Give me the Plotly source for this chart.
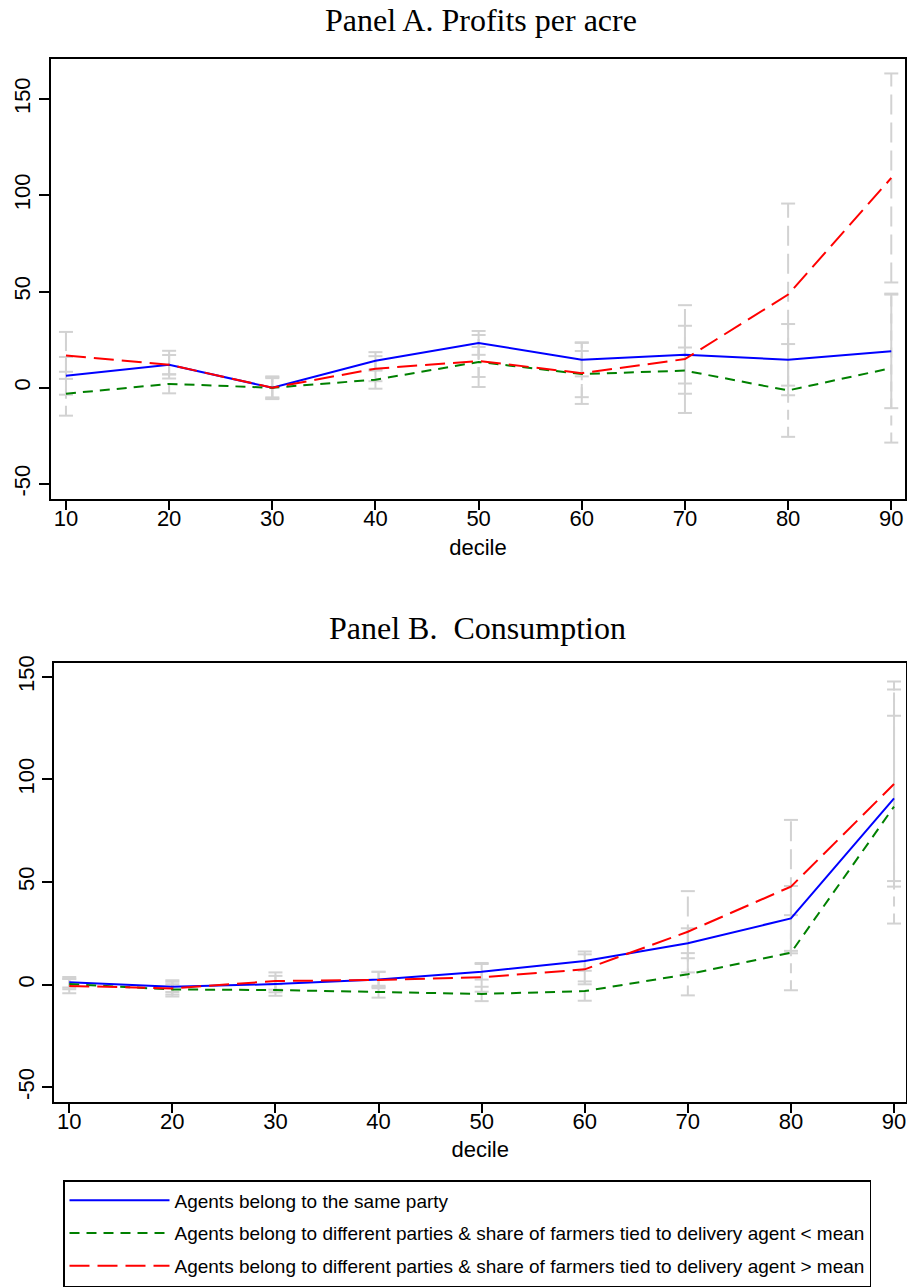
import plotly.graph_objects as go

# ---------------- data ----------------
deciles = [10, 20, 30, 40, 50, 60, 70, 80, 90]

# Panel A. Profits per acre
a_same = [6.2, 12.0, 0.0, 14.0, 23.3, 14.6, 17.2, 14.6, 18.9]
a_below = [-3.1, 2.0, 0.0, 4.2, 13.4, 7.1, 8.9, -1.4, 10.2]
a_above = [16.8, 12.0, 0.0, 9.9, 13.9, 7.6, 14.9, 48.4, 109.0]
a_same_ci = [9.8, 7.2, 5.0, 4.5, 6.2, 8.7, 15.0, 18.5, 29.5]
a_below_ci = [11.4, 4.9, 5.9, 4.7, 7.8, 12.0, 12.0, 24.1, 38.7]
a_above_ci = [12.2, 5.0, 5.5, 6.5, 13.5, 16.0, 28.0, 47.3, 54.3]

# Panel B. Consumption
b_same = [1.2, -1.0, 0.3, 2.6, 6.3, 11.5, 20.2, 32.3, 90.8]
b_below = [0.3, -2.3, -2.6, -3.4, -4.5, -3.1, 5.1, 15.6, 86.8]
b_above = [-0.6, -1.8, 1.8, 2.3, 3.6, 7.5, 25.8, 47.8, 97.8]
b_same_ci = [2.5, 2.5, 4.0, 3.7, 3.8, 4.7, 7.3, 15.8, 40.3]
b_below_ci = [2.5, 2.5, 2.8, 2.9, 3.5, 4.7, 10.3, 18.3, 57.0]
b_above_ci = [3.5, 4.0, 4.2, 4.0, 7.0, 7.3, 19.8, 32.5, 50.0]

series_names = [
    "Agents belong to the same party",
    "Agents belong to different parties & share of farmers tied to delivery agent < mean",
    "Agents belong to different parties & share of farmers tied to delivery agent > mean",
]
y_tickvals = [-50, 0, 50, 100, 150]
y_ticktext = ["-50", "0", "50", "100", "150"]
panel_titles = ["Panel A. Profits per acre", "Panel B.\u00a0 Consumption"]

# ---------------- styles ----------------
colors = ["#0000ff", "#008000", "#ff0000"]
dashes = ["solid", "10px,7px", "20px,8px"]
GRAY = "#d2d2d2"
FONT = "Liberation Sans, Arial, Helvetica, sans-serif"
SERIF = "Liberation Serif, Times New Roman, serif"

W, H = 907, 1287

fig = go.Figure()

panels = [
    ("x", "y", [a_same, a_below, a_above], [a_same_ci, a_below_ci, a_above_ci]),
    ("x2", "y2", [b_same, b_below, b_above], [b_same_ci, b_below_ci, b_above_ci]),
]

for pi, (xa, ya, vals, cis) in enumerate(panels):
    # confidence intervals (gray, drawn first)
    for si in range(3):
        ex, ey = [], []
        lo = [v - h for v, h in zip(vals[si], cis[si])]
        hi = [v + h for v, h in zip(vals[si], cis[si])]
        for d, l, u in zip(deciles, lo, hi):
            ex += [d, d, None]
            ey += [l, u, None]
        fig.add_trace(go.Scatter(
            x=ex, y=ey, mode="lines", xaxis=xa, yaxis=ya,
            line=dict(color=GRAY, width=2, dash=dashes[si]),
            showlegend=False, hoverinfo="skip"))
        fig.add_trace(go.Scatter(
            x=deciles + deciles, y=lo + hi, mode="markers", xaxis=xa, yaxis=ya,
            marker=dict(symbol="line-ew", size=10, color=GRAY,
                        line=dict(color=GRAY, width=2)),
            showlegend=False, hoverinfo="skip"))
    # point estimates
    for si in range(3):
        fig.add_trace(go.Scatter(
            x=deciles, y=vals[si], mode="lines", xaxis=xa, yaxis=ya,
            name=series_names[si], legendgroup=f"g{si}",
            showlegend=(pi == 0),
            line=dict(color=colors[si], width=2, dash=dashes[si])))

def xdom(l, r):
    return [l / W, r / W]

def ydom(t, b):
    return [1 - b / H, 1 - t / H]

common_x = dict(
    tickvals=deciles, ticks="outside", ticklen=9, tickwidth=1.5, tickcolor="black",
    ticklabelstandoff=-10, automargin=False,
    showline=True, mirror=True, linecolor="black", linewidth=2,
    showgrid=False, zeroline=False,
    tickfont=dict(family=FONT, size=22, color="black"),
    title=dict(text="decile", font=dict(family=FONT, size=22, color="black"), standoff=9),
)
common_y = dict(
    tickvals=y_tickvals, ticktext=y_ticktext, tickangle=-90, automargin=False,
    ticks="outside", ticklen=10, tickwidth=1.5, tickcolor="black",
    showline=True, mirror=True, linecolor="black", linewidth=2,
    showgrid=False, zeroline=False,
    tickfont=dict(family=FONT, size=22, color="black"),
)

fig.update_layout(
    width=W, height=H,
    margin=dict(l=0, r=0, t=0, b=0, autoexpand=False),
    paper_bgcolor="white", plot_bgcolor="white",
    xaxis=dict(domain=xdom(51, 905), range=[8.55, 91.33], anchor="y", **common_x),
    yaxis=dict(domain=ydom(59, 499), range=[-57.8, 170.8], anchor="x", **common_y),
    xaxis2=dict(domain=xdom(54.3, 906), range=[8.55, 91.16], anchor="y2", **common_x),
    yaxis2=dict(domain=ydom(662.7, 1101.7), range=[-57.0, 156.9], anchor="x2", **common_y),
    legend=dict(
        x=63 / W, y=1 - 1180 / H, xanchor="left", yanchor="top",
        bordercolor="black", borderwidth=1.5, bgcolor="white",
        font=dict(family=FONT, size=19, color="black"),
        traceorder="grouped", tracegroupgap=5, itemwidth=100,
    ),
    showlegend=True,
    annotations=[
        dict(text=panel_titles[0], x=481 / W, y=1 - 20 / H, xref="paper", yref="paper",
             xanchor="center", yanchor="middle", showarrow=False,
             font=dict(family=SERIF, size=32, color="black")),
        dict(text=panel_titles[1], x=478 / W, y=1 - 628 / H, xref="paper", yref="paper",
             xanchor="center", yanchor="middle", showarrow=False,
             font=dict(family=SERIF, size=32, color="black")),
    ],
)

fig.write_html("out.html")
